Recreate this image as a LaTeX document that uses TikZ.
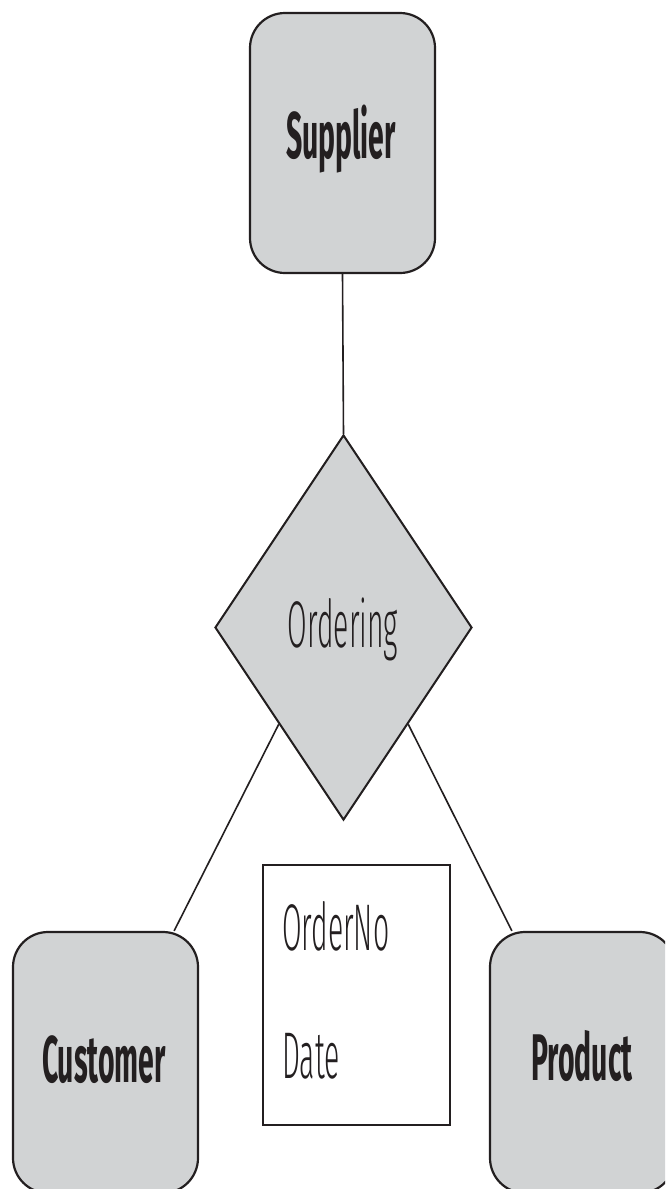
\documentclass[tikz,border=0pt]{standalone}
\usepackage{fontspec}
\usepackage{graphicx}
\setmainfont{Fira Sans}
\IfFontExistsTF{Fira Sans Light}{\newfontfamily\lightf{Fira Sans Light}}{%
  \IfFontExistsTF{Lato Light}{\newfontfamily\lightf{Lato Light}}{\newfontfamily\lightf{Fira Sans}}}
\usetikzlibrary{shapes.geometric}
\definecolor{boxgray}{HTML}{D1D3D4}
\definecolor{ink}{HTML}{231F20}
\newcommand\sqz[1]{\scalebox{0.43}[1]{#1}}
\begin{document}
\begin{tikzpicture}[x=1pt,y=-1pt,
  entity/.style={draw=ink,fill=boxgray,line width=2.2pt,rounded corners=35pt,minimum width=185pt,minimum height=260pt,inner sep=0pt},
  rel/.style={draw=ink,fill=boxgray,line width=2pt,diamond,minimum width=257pt,minimum height=385pt,inner sep=0pt},
  attr/.style={draw=ink,fill=white,line width=2.5pt,minimum width=187pt,minimum height=260pt,inner sep=0pt},
  lbl/.style={anchor=base,inner sep=0pt,text=ink,font=\fontsize{66}{70}\lightf},
  blbl/.style={lbl,font=\fontsize{66}{70}\selectfont\bfseries},
  conn/.style={draw=ink,line width=1.6pt}]
\useasboundingbox (0,0) rectangle (665,1189);
\clip (0,0) rectangle (665,1189);
\fill[white] (0,0) rectangle (665,1189);
\node[entity] (supplier) at (342.5,143) {};
\node[rel] (ordering) at (343.5,627.5) {};
\node[entity,minimum height=261pt] (customer) at (105.5,1062.5) {};
\node[entity,minimum height=261pt] (product) at (582.5,1062.5) {};
\node[attr] (attrs) at (356.5,995) {};
\draw[conn] (supplier.south) -- (ordering.north);
\draw[conn] (ordering.south west) -- ([xshift=-25pt]customer.north east);
\draw[conn] (ordering.south east) -- ([xshift=23pt]product.north west);
\node[blbl] (suplbl) at (341,158) {\sqz{Supplier}};
\node[lbl] (ordlbl) at (343,647) {\sqz{Ordering}};
\node[blbl] (custlbl) at (104,1082) {\sqz{Customer}};
\node[blbl] (prodlbl) at (582,1080) {\sqz{Product}};
\node[lbl,anchor=base west] (ordno) at (282,950) {\sqz{OrderNo}};
\node[lbl,anchor=base west] (date) at (282,1078) {\sqz{Date}};
\end{tikzpicture}
\end{document}
